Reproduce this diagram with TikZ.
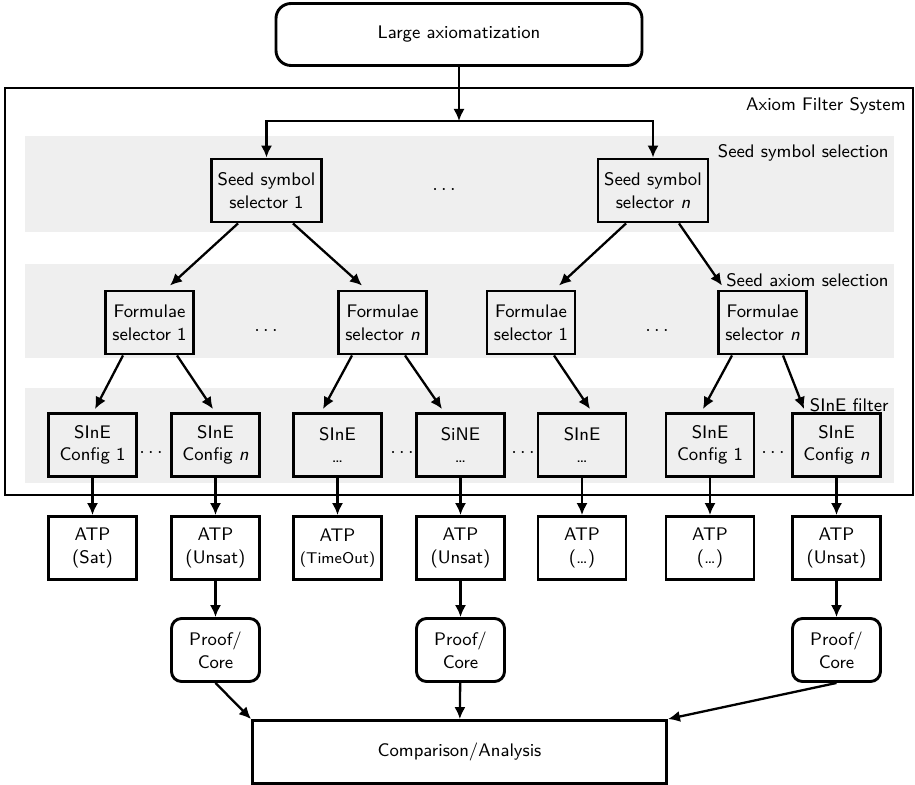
\documentclass[tikz,border=0pt]{standalone}
\usepackage{fontspec}
\usetikzlibrary{arrows.meta,calc}
\definecolor{bandc}{HTML}{EFEFEF}
\begin{document}
\begin{tikzpicture}[x=0.5pt,y=-0.5pt,
  font=\sffamily\fontsize{9.1}{11.3}\selectfont,
  box/.style={draw, line width=1.45pt, minimum width=44pt, minimum height=31.5pt, inner sep=1pt, align=center},
  seedbox/.style={box, minimum width=55pt},
  roundbox/.style={box, rounded corners=5pt},
  arr/.style={line width=1.15pt, -{Latex[length=6pt,width=5.6pt]}},
  lbl/.style={anchor=base east, inner sep=0pt},
  dotsn/.style={inner sep=0pt, font=\fontsize{10}{12}\selectfont}]
\useasboundingbox (0,0) rectangle (915,785);
% bands
\fill[bandc] (25,136) rectangle (894,232);
\fill[bandc] (25,264) rectangle (894,358);
\fill[bandc] (25,388) rectangle (894,483);
% outer system
\draw[line width=1.25pt] (5,88) rectangle (913,495);
\node[lbl] (sysl) at (906,111) {Axiom Filter System};
\node[lbl] (l1) at (889,158) {Seed symbol selection};
\node[lbl] (l2) at (889,287) {Seed axiom selection};
\node[lbl] (l3) at (889,412) {SInE filter};
% top
\node[box, rounded corners=7.5pt, minimum width=183pt, minimum height=31pt] (la) at (459,34.5) {Large axiomatization};
% seed selectors
\node[seedbox] (s1) at (266.5,190.5) {Seed symbol\\selector 1};
\node[seedbox] (sn) at (653,190.5) {Seed symbol\\selector \textit{n}};
\node[dotsn] (d0) at (444,190) {$\cdots$};
% formulae selectors
\node[box] (fl1) at (149.5,322.5) {Formulae\\selector 1};
\node[box] (fln) at (382.5,322.5) {Formulae\\selector \textit{n}};
\node[box] (fr1) at (531,322.5) {Formulae\\selector 1};
\node[box] (frn) at (762.5,322.5) {Formulae\\selector \textit{n}};
\node[dotsn] (d1) at (266,331) {$\cdots$};
\node[dotsn] (d2) at (657,331) {$\cdots$};
% SInE configs
\node[box] (c1) at (92.5,445) {SInE\\Config 1};
\node[box] (c2) at (215.5,445) {SInE\\Config \textit{n}};
\node[box] (c3) at (337.5,445) {SInE\\\dots};
\node[box] (c4) at (460.5,445) {SiNE\\\dots};
\node[box] (c5) at (582,445) {SInE\\\dots};
\node[box] (c6) at (710,445) {SInE\\Config 1};
\node[box] (c7) at (836.5,445) {SInE\\Config \textit{n}};
\node[dotsn] (d3) at (151,453) {$\cdots$};
\node[dotsn] (d4) at (402,453) {$\cdots$};
\node[dotsn] (d5) at (523,453) {$\cdots$};
\node[dotsn] (d6) at (773,453) {$\cdots$};
% ATP
\node[box] (a1) at (92.5,548) {ATP\\(Sat)};
\node[box] (a2) at (215.5,548) {ATP\\(Unsat)};
\node[box] (a3) at (337.5,548) {ATP\\{\fontsize{7.8}{9}\selectfont(TimeOut)}};
\node[box] (a4) at (460.5,548) {ATP\\(Unsat)};
\node[box] (a5) at (582,548) {ATP\\(\dots)};
\node[box] (a6) at (710,548) {ATP\\(\dots)};
\node[box] (a7) at (836.5,548) {ATP\\(Unsat)};
% proofs
\node[roundbox] (p2) at (215.5,650) {Proof/\\Core};
\node[roundbox] (p4) at (460.5,650) {Proof/\\Core};
\node[roundbox] (p7) at (836.5,650) {Proof/\\Core};
% comparison
\node[box, minimum width=207pt, minimum height=31.5pt] (cmp) at (459.5,752) {Comparison/Analysis};
% connectors
\coordinate (fork) at (459,121);
\draw[arr] (la) -- (fork);
\draw[arr] (fork) -| (s1);
\draw[arr] (fork) -| (sn);
\draw[arr] ($(s1.south)+(-28.5,0)$) -- ($(fl1.north)+(20.5,-4)$);
\draw[arr] ($(s1.south)+(26.5,0)$) -- ($(fln.north)+(-20.5,-4)$);
\draw[arr] ($(sn.south)+(-27,0)$) -- ($(fr1.north)+(28,-4)$);
\draw[arr] ($(sn.south)+(26,0)$) -- ($(frn.north)+(-40.5,-4)$);
\draw[arr] ($(fl1.south)+(-26.5,0)$) -- ($(c1.north)+(2.5,-3)$);
\draw[arr] ($(fl1.south)+(27.5,0)$) -- ($(c2.north)+(-2.5,-3)$);
\draw[arr] ($(fln.south)+(-30.5,0)$) -- ($(c3.north)+(-14.5,-3)$);
\draw[arr] ($(fln.south)+(22.5,0)$) -- ($(c4.north)+(-18.5,-3)$);
\draw[arr] ($(fr1.south)+(23,0)$) -- ($(c5.north)+(8,-3)$);
\draw[arr] ($(frn.south)+(-30.5,0)$) -- ($(c6.north)+(-7,-3)$);
\draw[arr] ($(frn.south)+(20.5,0)$) -- ($(c7.north)+(-32.5,-3)$);
\foreach \i in {1,...,7} { \draw[arr] (c\i) -- (a\i); }
\draw[arr] (a2) -- (p2);
\draw[arr] (a4) -- (p4);
\draw[arr] (a7) -- (p7);
\draw[arr] (p2.south) -- (cmp.north west);
\draw[arr] (p4) -- (cmp);
\draw[arr] (p7.south) -- (cmp.north east);
\end{tikzpicture}
\end{document}
